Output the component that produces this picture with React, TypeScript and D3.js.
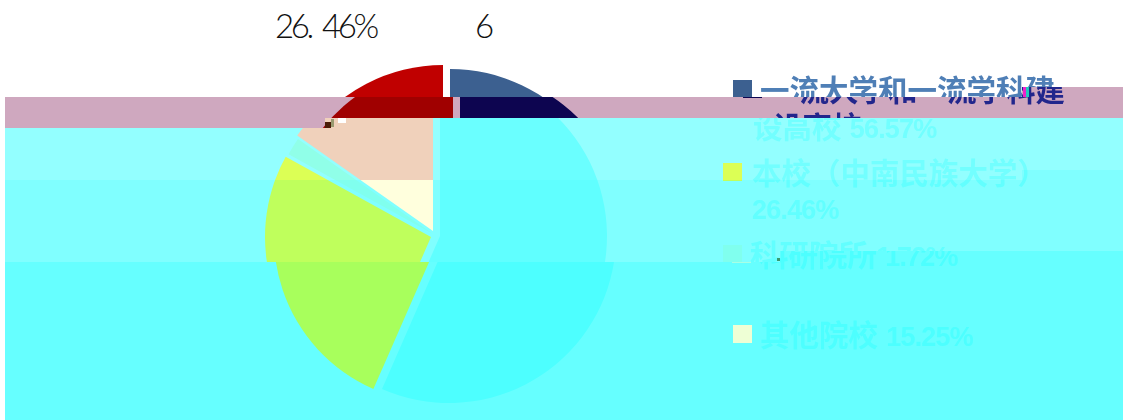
import * as d3 from "d3";

const W = 1123;
const H = 420;

const categories = ["一流大学和一流学科建设高校", "本校（中南民族大学）", "科研院所", "其他院校"];
const shares = [56.57, 26.46, 1.72, 15.25];
const topLabels = ["26.  46%", "6"];

// the picture is a damaged raster: stacked strips, each one shifted and recoloured
type Strip = {
  top: number; // strip top right of splitX
  topLeft: number; // strip top left of splitX
  splitX: number;
  dx: number;
  bg: string;
  text: string;
  slices: string[];
};

const strips: Strip[] = [
  { top: 0, topLeft: 0, splitX: 0, dx: 0, bg: "#ffffff", text: "#4f7fb6", slices: ["#3c6090", "#cfe04f", "#9bbb59", "#c00000"] },
  { top: 87, topLeft: 97, splitX: 1022, dx: 10, bg: "#cfa8bf", text: "#22268c", slices: ["#0d0550", "#b0a000", "#806000", "#a00000"] },
  { top: 118, topLeft: 128, splitX: 325, dx: -10, bg: "#93ffff", text: "#72ffff", slices: ["#6affff", "#dcff55", "#90ffe8", "#f0d1bb"] },
  { top: 170, topLeft: 180, splitX: 1022, dx: -10, bg: "#80ffff", text: "#62ffff", slices: ["#60ffff", "#bfff5c", "#80ffee", "#ffffdd"] },
  { top: 251, topLeft: 262, splitX: 780, dx: -1, bg: "#66ffff", text: "#4dffff", slices: ["#4dffff", "#a8ff5c", "#a8ffe4", "#eeffd5"] },
];

const sliceCentres = [
  { x: 450, y: 236, r: 167 },
  { x: 441, y: 237, r: 166 },
  { x: 443, y: 234, r: 165 },
  { x: 443, y: 231, r: 166 },
];

const legendRows = [
  { sq: [733, 80], lines: [{ x: 760, y: 101, t: "一流大学和一流学科建", n: "" }, { x: 763, y: 138, t: "设高校 ", n: `${shares[0].toFixed(2)}%` }] },
  { sq: [733, 163], lines: [{ x: 762, y: 184, t: "本校（中南民族大学）", n: "" }, { x: 762, y: 219, t: "", n: `${shares[1].toFixed(2)}%` }] },
  { sq: [733, 245], lines: [{ x: 760, y: 266, t: "科研院所 ", n: `${shares[2].toFixed(2)}%` }] },
  { sq: [734, 325], lines: [{ x: 761, y: 346, t: "其他院校 ", n: `${shares[3].toFixed(2)}%` }] },
];

const pie = d3.pie<number>().sort(null);
const arcs = pie(shares);
const arc = d3.arc<d3.PieArcDatum<number>>().innerRadius(0);

function stripPath(i: number) {
  const s = strips[i];
  const next = strips[i + 1];
  const left = i === 0 ? 0 : 5;
  const pts: [number, number][] = [
    [left, s.topLeft],
    [s.splitX, s.topLeft],
    [s.splitX, s.top],
    [W, s.top],
  ];
  if (next) {
    pts.push([W, next.top], [next.splitX, next.top], [next.splitX, next.topLeft], [left, next.topLeft]);
  } else {
    pts.push([W, H], [left, H]);
  }
  return d3.line()(pts) + "Z";
}

function Scene({ s }: { s: Strip }) {
  return (
    <g transform={`translate(${s.dx},0)`}>
      {arcs.map((a, i) => (
        <path
          key={categories[i]}
          transform={`translate(${sliceCentres[i].x},${sliceCentres[i].y})`}
          d={arc.outerRadius(sliceCentres[i].r)(a) ?? ""}
          fill={s.slices[i]}
        />
      ))}
      {legendRows.map((row, i) => (
        <g key={categories[i]}>
          <rect x={row.sq[0]} y={row.sq[1]} width={19} height={18} fill={s.slices[i]} />
          {row.lines.map((l) => (
            <text
              key={l.t + l.n}
              x={l.x}
              y={l.y}
              fontSize={29.5}
              fontWeight={700}
              fontFamily="'Liberation Sans', 'Noto Sans CJK SC'"
              fill={s.text}
              filter="url(#soft)"
            >
              {l.t}
              <tspan fontSize={27} letterSpacing={-0.8}>{l.n}</tspan>
            </text>
          ))}
        </g>
      ))}
    </g>
  );
}

export default function App() {
  return (
    <svg
      width={W}
      height={H}
      viewBox={`0 0 ${W} ${H}`}
      style={{ position: "absolute", left: 0, top: 0, background: "#fff" }}
    >
      <defs>
        <filter id="soft" x="-5%" y="-20%" width="110%" height="140%">
          <feGaussianBlur stdDeviation="0.6" />
        </filter>
        {strips.map((_, i) => (
          <clipPath key={i} id={`strip-${i}`}>
            <path d={stripPath(i)} />
          </clipPath>
        ))}
      </defs>
      {strips.map((s, i) => (
        <g key={i} clipPath={`url(#strip-${i})`}>
          <rect x={0} y={0} width={W} height={H} fill={s.bg} />
          <Scene s={s} />
        </g>
      ))}
      {/* top labels, thin face */}
      <text x={275} y={38} fontSize={33} fontWeight={300} fontFamily="Lato" letterSpacing={-3.4} fill="#111" style={{ whiteSpace: "pre" }}>
        {topLabels[0]}
      </text>
      <text x={475} y={38} fontSize={33} fontWeight={300} fontFamily="Lato" fill="#111">
        {topLabels[1]}
      </text>
      {/* corrupted blocks at the strip seams */}
      <rect x={325} y={122} width={6} height={6} fill="#4a1c08" />
      <rect x={331} y={119} width={3} height={8} fill="#9a9a70" />
      <rect x={338} y={118} width={8} height={5} fill="#fff" />
      <rect x={1023} y={87} width={3} height={10} fill="#ee22cc" />
      <rect x={1026} y={87} width={3} height={10} fill="#22ccbb" />
      <rect x={777} y={258} width={3} height={3} fill="#3a9a70" />
    </svg>
  );
}
